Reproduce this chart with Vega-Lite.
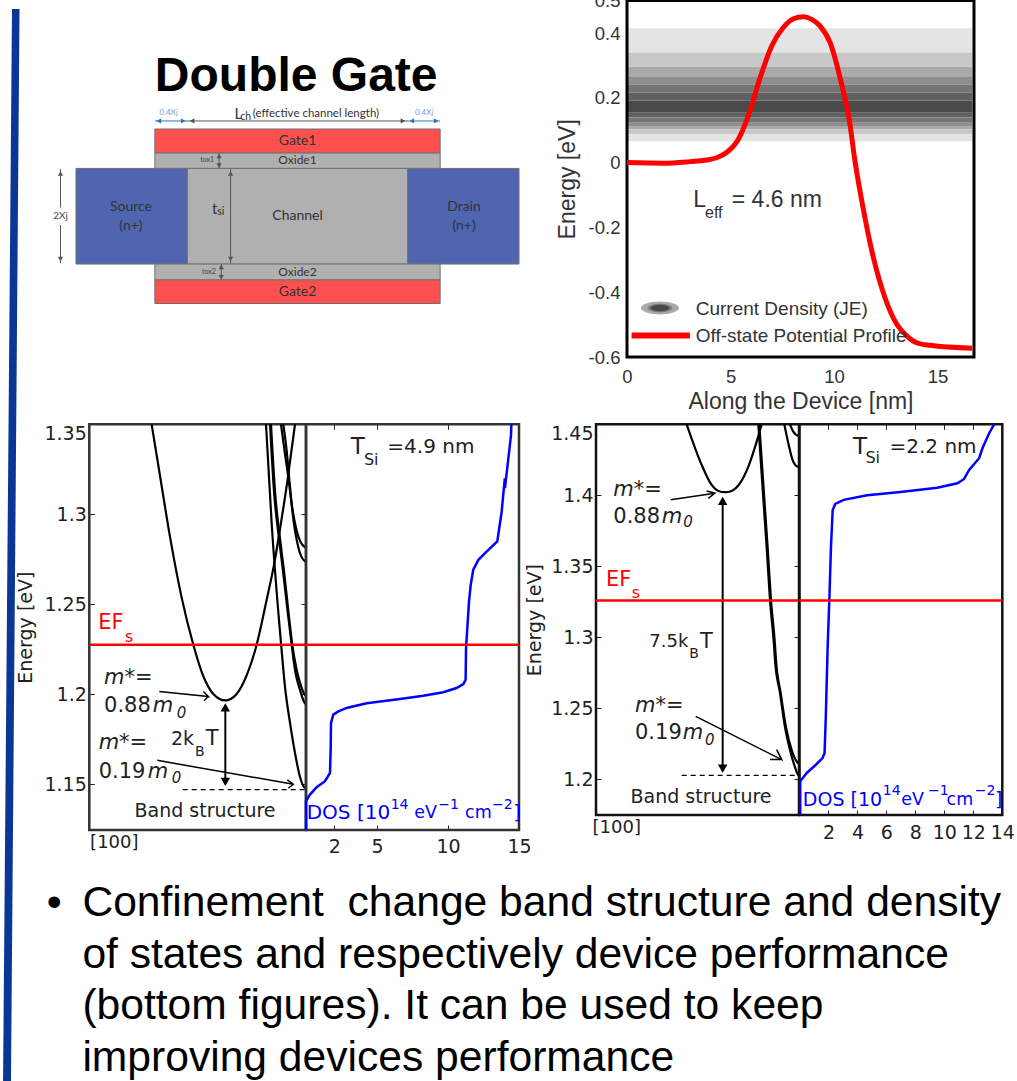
{
"$schema":"https://vega.github.io/schema/vega-lite/v6.json",
"width":1017,"height":1081,"padding":0,"autosize":{"type":"none"},"background":"white",
"config":{"view":{"stroke":null},"axis":{"grid":false,"domain":false,"labelFont":"DejaVu Sans","titleFont":"DejaVu Sans","titleFontWeight":"normal","labelColor":"#222","titleColor":"#222","labelFontSize":19,"titleFontSize":19,"tickColor":"#222","labelOverlap":false}},
"resolve":{"scale":{"x":"independent","y":"independent","color":"independent","shape":"independent"},"axis":{"x":"independent","y":"independent"}},
"layer":[
{"encoding":{"x":{"field":"sx","type":"quantitative","scale":{"domain":[0,100],"range":[0,1017]},"axis":null},"y":{"field":"sy","type":"quantitative","scale":{"domain":[0,100],"range":[0,1081]},"axis":null}},
 "layer":[
 {"data":{"values":[{"sx":1.18,"sx2":1.92,"sy":0.83},{"sx":0.3,"sx2":1.08,"sy":100}]},"mark":{"type":"area","orient":"horizontal","color":"#0a3796"},"encoding":{"x2":{"field":"sx2"}}},
 {"data":{"values":[{"sx":8.1,"sy":83.55,"t":"Confinement\u00a0 change band structure and density"},{"sx":8.1,"sy":88.35,"t":"of states and respectively device performance"},{"sx":8.1,"sy":93.05,"t":"(bottom figures). It can be used to keep"},{"sx":8.1,"sy":97.85,"t":"improving devices performance"},{"sx":4.6,"sy":83.55,"t":"•"}]},"mark":{"type":"text","font":"Liberation Sans","fontSize":42.6,"align":"left","baseline":"middle","color":"black"},"encoding":{"text":{"field":"t"}}}
 ]},
{"encoding":{"x":{"field":"dx","type":"quantitative","scale":{"domain":[0,100],"range":[76,519]},"axis":null},"y":{"field":"dy","type":"quantitative","scale":{"domain":[0,100],"range":[129,303.5]},"axis":null}},
 "layer":[
 {"data":{"values":[
  {"dx":17.8,"dx2":82.2,"dy":0,"dy2":13.8,"region":"gate"},
  {"dx":17.8,"dx2":82.2,"dy":13.8,"dy2":22.6,"region":"oxide"},
  {"dx":25.1,"dx2":74.9,"dy":22.6,"dy2":77.4,"region":"channel"},
  {"dx":0,"dx2":25.1,"dy":22.6,"dy2":77.4,"region":"contact"},
  {"dx":74.9,"dx2":100,"dy":22.6,"dy2":77.4,"region":"contact"},
  {"dx":17.8,"dx2":82.2,"dy":77.4,"dy2":86.5,"region":"oxide"},
  {"dx":17.8,"dx2":82.2,"dy":86.5,"dy2":100,"region":"gate"}]},
  "mark":{"type":"rect","stroke":"#707070","strokeWidth":1},
  "encoding":{"x2":{"field":"dx2"},"y2":{"field":"dy2"},"color":{"field":"region","type":"nominal","scale":{"domain":["gate","oxide","channel","contact","dim","blue"],"range":["#ff5050","#b0b0b0","#b0b0b0","#4f65b0","#555555","#2e75b6"]},"legend":null}}},
 {"data":{"values":[
  {"dx":25.1,"dx2":74.9,"dy":-4.6,"kind":"dim"},
  {"dx":17.8,"dx2":25.1,"dy":-4.6,"kind":"blue"},
  {"dx":74.9,"dx2":82.2,"dy":-4.6,"kind":"blue"}]},
  "mark":{"type":"rule","strokeWidth":1},
  "encoding":{"x2":{"field":"dx2"},"color":{"field":"kind","type":"nominal","scale":{"domain":["gate","oxide","channel","contact","dim","blue"],"range":["#ff5050","#b0b0b0","#b0b0b0","#4f65b0","#555555","#2e75b6"]},"legend":null}}},
 {"data":{"values":[
  {"dx":34.9,"dy":23,"dy2":77},
  {"dx":-3.5,"dy":23,"dy2":45},
  {"dx":-3.5,"dy":55,"dy2":77},
  {"dx":32.3,"dy":14,"dy2":22.5},
  {"dx":32.8,"dy":77.5,"dy2":86.3}]},
  "mark":{"type":"rule","strokeWidth":1,"color":"#555555"},
  "encoding":{"y2":{"field":"dy2"}}},
 {"data":{"values":[
  {"dx":26.2,"dy":-4.6,"dir":"left","kind":"dim"},{"dx":73.8,"dy":-4.6,"dir":"right","kind":"dim"},
  {"dx":18.7,"dy":-4.6,"dir":"left","kind":"blue"},{"dx":24.2,"dy":-4.6,"dir":"right","kind":"blue"},
  {"dx":75.8,"dy":-4.6,"dir":"left","kind":"blue"},{"dx":81.3,"dy":-4.6,"dir":"right","kind":"blue"},
  {"dx":34.9,"dy":25.5,"dir":"up","kind":"dim"},{"dx":34.9,"dy":74.5,"dir":"down","kind":"dim"},
  {"dx":-3.5,"dy":25.5,"dir":"up","kind":"dim"},{"dx":-3.5,"dy":74.5,"dir":"down","kind":"dim"},
  {"dx":32.3,"dy":15.5,"dir":"up","kind":"dim"},{"dx":32.3,"dy":21,"dir":"down","kind":"dim"},
  {"dx":32.8,"dy":79,"dir":"up","kind":"dim"},{"dx":32.8,"dy":85,"dir":"down","kind":"dim"}]},
  "mark":{"type":"point","filled":true,"size":28,"opacity":1,"strokeWidth":0},
  "encoding":{"shape":{"field":"dir","type":"nominal","scale":{"domain":["left","right","up","down"],"range":["triangle-left","triangle-right","triangle-up","triangle-down"]},"legend":null},"color":{"field":"kind","type":"nominal","scale":{"domain":["gate","oxide","channel","contact","dim","blue"],"range":["#ff5050","#b0b0b0","#b0b0b0","#4f65b0","#555555","#2e75b6"]},"legend":null}}},
 {"data":{"values":[{"dx":49.7,"dy":-21.8,"t":"Double Gate"}]},"mark":{"type":"text","font":"Liberation Sans","fontWeight":"bold","fontSize":48,"align":"center","baseline":"alphabetic","color":"black"},"encoding":{"text":{"field":"t"}}},
 {"data":{"values":[{"dx":50,"dy":6.7,"t":"Gate1"},{"dx":50,"dy":93.2,"t":"Gate2"},{"dx":12.4,"dy":44.7,"t":"Source"},{"dx":12.4,"dy":55.4,"t":"(n+)"},{"dx":87.6,"dy":44.7,"t":"Drain"},{"dx":87.6,"dy":55.4,"t":"(n+)"},{"dx":50,"dy":50,"t":"Channel"}]},"mark":{"type":"text","font":"Lato","fontSize":14,"align":"center","baseline":"middle","color":"#333333"},"encoding":{"text":{"field":"t"}}},
 {"data":{"values":[{"dx":50,"dy":18,"t":"Oxide1"},{"dx":50,"dy":82,"t":"Oxide2"}]},"mark":{"type":"text","font":"Lato","fontSize":12,"align":"center","baseline":"middle","color":"#333333"},"encoding":{"text":{"field":"t"}}},
 {"data":{"values":[{"dx":39.9,"dy":-8.6,"t":"(effective channel length)"}]},"mark":{"type":"text","font":"Lato","fontSize":11.5,"align":"left","baseline":"middle","color":"#333333"},"encoding":{"text":{"field":"t"}}},
 {"data":{"values":[{"dx":35.8,"dy":-8.6,"t":"L"},{"dx":30.7,"dy":46,"t":"t"}]},"mark":{"type":"text","font":"Lato","fontSize":15,"align":"left","baseline":"middle","color":"#333333"},"encoding":{"text":{"field":"t"}}},
 {"data":{"values":[{"dx":37.1,"dy":-7,"t":"ch"},{"dx":31.9,"dy":47.7,"t":"si"}]},"mark":{"type":"text","font":"Lato","fontSize":10.5,"align":"left","baseline":"middle","color":"#333333"},"encoding":{"text":{"field":"t"}}},
 {"data":{"values":[{"dx":-3.5,"dy":50,"t":"2Xj"}]},"mark":{"type":"text","font":"Lato","fontSize":10,"align":"center","baseline":"middle","color":"#444444"},"encoding":{"text":{"field":"t"}}},
 {"data":{"values":[{"dx":29.6,"dy":18,"t":"tox1"},{"dx":30,"dy":81.8,"t":"tox2"}]},"mark":{"type":"text","font":"Lato","fontSize":7,"align":"center","baseline":"middle","color":"#444444"},"encoding":{"text":{"field":"t"}}},
 {"data":{"values":[{"dx":20.9,"dy":-9.2,"t":"0.4Xj"},{"dx":78.6,"dy":-9.2,"t":"0.4Xj"}]},"mark":{"type":"text","font":"Lato","fontSize":8,"align":"center","baseline":"middle","color":"#6fa3d8"},"encoding":{"text":{"field":"t"}}}
 ]},
{"encoding":{
  "x":{"field":"pos","type":"quantitative","scale":{"domain":[0,16.76],"range":[627,974]},"axis":{"orient":"bottom","offset":-724,"values":[0,5,10,15],"format":"d","ticks":false,"labelFlush":false,"labelPadding":10,"labelFont":"Liberation Sans","labelFontSize":18.5,"title":"Along the Device [nm]","titleFont":"Liberation Sans","titleFontSize":23,"titlePadding":5,"labelColor":"#333","titleColor":"#333"}},
  "y":{"field":"en","type":"quantitative","scale":{"domain":[-0.6,0.5],"range":[357,0.6]},"axis":{"orient":"left","offset":-627,"values":[-0.6,-0.4,-0.2,0,0.2,0.4,0.5],"labelExpr":"''+round(datum.value*10)/10","ticks":false,"labelPadding":7,"labelFont":"Liberation Sans","labelFontSize":18.5,"title":"Energy [eV]","titleFont":"Liberation Sans","titleFontSize":23,"titlePadding":9,"labelColor":"#333","titleColor":"#333"}}},
 "layer":[
 {"data":{"values":[
  {"pos":0,"pos2":16.68,"en":0.415,"en2":0.340,"level":1},{"pos":0,"pos2":16.68,"en":0.340,"en2":0.296,"level":2},{"pos":0,"pos2":16.68,"en":0.296,"en2":0.264,"level":3},{"pos":0,"pos2":16.68,"en":0.264,"en2":0.240,"level":4},{"pos":0,"pos2":16.68,"en":0.240,"en2":0.216,"level":5},{"pos":0,"pos2":16.68,"en":0.216,"en2":0.192,"level":6},{"pos":0,"pos2":16.68,"en":0.192,"en2":0.154,"level":7},{"pos":0,"pos2":16.68,"en":0.154,"en2":0.139,"level":6},{"pos":0,"pos2":16.68,"en":0.139,"en2":0.123,"level":5},{"pos":0,"pos2":16.68,"en":0.123,"en2":0.113,"level":4},{"pos":0,"pos2":16.68,"en":0.113,"en2":0.103,"level":3},{"pos":0,"pos2":16.68,"en":0.103,"en2":0.087,"level":2},{"pos":0,"pos2":16.68,"en":0.087,"en2":0.066,"level":1}]},
  "mark":{"type":"rect"},
  "encoding":{"x2":{"field":"pos2"},"y2":{"field":"en2"},"color":{"field":"level","type":"ordinal","scale":{"domain":[1,2,3,4,5,6,7],"range":["#e4e4e4","#c8c8c8","#aaaaaa","#8e8e8e","#757575","#606060","#4a4a4a"]},"legend":null}}},
 {"data":{"values":[{"pos":0,"pos2":16.76,"en":-0.6,"en2":0.5}]},"mark":{"type":"rect","filled":false,"stroke":"black","strokeWidth":3},"encoding":{"x2":{"field":"pos2"},"y2":{"field":"en2"}}},
 {"data":{"values":[{"pos":0,"en":0},{"pos":1.755,"en":-0.002},{"pos":3.04,"en":0.003},{"pos":3.85,"en":0.008},{"pos":4.33,"en":0.015},{"pos":4.81,"en":0.031},{"pos":5.38,"en":0.072},{"pos":5.86,"en":0.144},{"pos":6.43,"en":0.262},{"pos":6.99,"en":0.36},{"pos":7.55,"en":0.417},{"pos":8.04,"en":0.444},{"pos":8.52,"en":0.45},{"pos":8.92,"en":0.442},{"pos":9.32,"en":0.422},{"pos":9.81,"en":0.37},{"pos":10.29,"en":0.262},{"pos":10.77,"en":0.118},{"pos":11.01,"en":0.005},{"pos":11.34,"en":-0.118},{"pos":11.9,"en":-0.293},{"pos":12.46,"en":-0.417},{"pos":13.03,"en":-0.499},{"pos":13.51,"en":-0.535},{"pos":13.99,"en":-0.556},{"pos":14.64,"en":-0.564},{"pos":16.68,"en":-0.573}]},"mark":{"type":"line","color":"#ff0000","strokeWidth":5,"interpolate":"monotone"}},
 {"data":{"values":[{"pos":1.59,"en":-0.4486}]},"mark":{"type":"point","filled":true,"opacity":1,"strokeWidth":0,"color":"#aaaaaa","size":1444,"shape":"M-1,0A1,0.34,0,1,1,1,0A1,0.34,0,1,1,-1,0Z"}},
 {"data":{"values":[{"pos":1.59,"en":-0.4486}]},"mark":{"type":"point","filled":true,"opacity":1,"strokeWidth":0,"color":"#808080","size":640,"shape":"M-1,0A1,0.34,0,1,1,1,0A1,0.34,0,1,1,-1,0Z"}},
 {"data":{"values":[{"pos":1.59,"en":-0.4486}]},"mark":{"type":"point","filled":true,"opacity":1,"strokeWidth":0,"color":"#484848","size":360,"shape":"M-1,0A1,0.34,0,1,1,1,0A1,0.34,0,1,1,-1,0Z"}},
 {"data":{"values":[{"pos":0.22,"pos2":3.04,"en":-0.534}]},"mark":{"type":"rule","color":"#ff0000","strokeWidth":6},"encoding":{"x2":{"field":"pos2"}}},
 {"data":{"values":[{"pos":3.32,"en":-0.4506,"t":"Current Density (JE)"},{"pos":3.32,"en":-0.536,"t":"Off-state Potential Profile"}]},"mark":{"type":"text","font":"Liberation Sans","fontSize":19,"align":"left","baseline":"middle","color":"#333333"},"encoding":{"text":{"field":"t"}}},
 {"data":{"values":[{"pos":3.2,"en":-0.115,"t":"L"},{"pos":5.06,"en":-0.115,"t":"= 4.6 nm"}]},"mark":{"type":"text","font":"Liberation Sans","fontSize":23,"align":"left","baseline":"middle","color":"#333333"},"encoding":{"text":{"field":"t"}}},
 {"data":{"values":[{"pos":3.77,"en":-0.157,"t":"eff"}]},"mark":{"type":"text","font":"Liberation Sans","fontSize":16,"align":"left","baseline":"middle","color":"#333333"},"encoding":{"text":{"field":"t"}}}
 ]},

{"data":{"values":[{"k":1,"k2":0,"E":1.1246,"E2":1.35}]},"mark":{"type":"rect","filled":false,"stroke":"#333333","strokeWidth":2.5},
 "encoding":{"x":{"field":"k","type":"quantitative","scale":{"domain":[1,0],"range":[89.3,306]},"axis":null},"x2":{"field":"k2"},
  "y":{"field":"E","type":"quantitative","scale":{"domain":[1.1246,1.35],"range":[830,424.3]},"axis":{"orient":"right","offset":-711,"values":[1.15,1.2,1.25,1.3,1.35],"tickSize":-5,"labels":false,"title":null}},"y2":{"field":"E2"}}},
{"encoding":{"x":{"field":"k","type":"quantitative","scale":{"domain":[1,0],"range":[89.3,306]},"axis":null},
  "y":{"field":"E","type":"quantitative","scale":{"domain":[1.1246,1.35],"range":[830,424.3]},"axis":{"orient":"left","offset":-89.3,"values":[1.15,1.2,1.25,1.3,1.35],"labelExpr":"''+round(datum.value*100)/100","labelFlush":true,"tickSize":-5,"labelPadding":8,"title":"Energy [eV]","titlePadding":8}}},
 "layer":[
 {"data":{"values":[
  {"band":"a","k":0.7123,"E":1.35},{"band":"a","k":0.6738,"E":1.3215},{"band":"a","k":0.6277,"E":1.2876},{"band":"a","k":0.5738,"E":1.2537},{"band":"a","k":0.52,"E":1.2275},{"band":"a","k":0.4738,"E":1.21},{"band":"a","k":0.4277,"E":1.2002},{"band":"a","k":0.3723,"E":1.1966},{"band":"a","k":0.32,"E":1.2002},{"band":"a","k":0.2738,"E":1.2105},{"band":"a","k":0.2277,"E":1.2275},{"band":"a","k":0.1815,"E":1.2525},{"band":"a","k":0.1477,"E":1.2719},{"band":"a","k":0.1169,"E":1.2941},{"band":"a","k":0.0862,"E":1.3182},{"band":"a","k":0.0508,"E":1.35},
  {"band":"c","k":0.1846,"E":1.35},{"band":"c","k":0.1583,"E":1.2946},{"band":"c","k":0.1278,"E":1.2457},{"band":"c","k":0.1154,"E":1.2285},{"band":"c","k":0.0969,"E":1.2041},{"band":"c","k":0.0738,"E":1.1841},{"band":"c","k":0.0508,"E":1.1674},{"band":"c","k":0.0277,"E":1.1541},{"band":"c","k":0.0046,"E":1.148},{"band":"c","k":0,"E":1.148},
  {"band":"d","k":0.1661,"E":1.35},{"band":"d","k":0.1477,"E":1.3129},{"band":"d","k":0.1232,"E":1.2852},{"band":"d","k":0.1061,"E":1.2685},{"band":"d","k":0.0844,"E":1.2457},{"band":"d","k":0.066,"E":1.2274},{"band":"d","k":0.0508,"E":1.2135},{"band":"d","k":0.0277,"E":1.2024},{"band":"d","k":0.0046,"E":1.195},{"band":"d","k":0,"E":1.1948},
  {"band":"d2","k":0.1615,"E":1.35},{"band":"d2","k":0.1431,"E":1.3129},{"band":"d2","k":0.1186,"E":1.2852},{"band":"d2","k":0.1015,"E":1.2685},{"band":"d2","k":0.0808,"E":1.2457},{"band":"d2","k":0.0632,"E":1.2274},{"band":"d2","k":0.0429,"E":1.2135},{"band":"d2","k":0.0245,"E":1.2052},{"band":"d2","k":0.0046,"E":1.1996},{"band":"d2","k":0,"E":1.1994},
  {"band":"e1","k":0.1154,"E":1.35},{"band":"e1","k":0.0969,"E":1.3335},{"band":"e1","k":0.0817,"E":1.3206},{"band":"e1","k":0.066,"E":1.3057},{"band":"e1","k":0.0429,"E":1.2909},{"band":"e1","k":0.0046,"E":1.2817},{"band":"e1","k":0,"E":1.2815},
  {"band":"e2","k":0.1048,"E":1.35},{"band":"e2","k":0.0891,"E":1.3353},{"band":"e2","k":0.0771,"E":1.3196},{"band":"e2","k":0.0614,"E":1.3002},{"band":"e2","k":0.0355,"E":1.2817},{"band":"e2","k":0.0046,"E":1.2739},{"band":"e2","k":0,"E":1.2737}]},
  "mark":{"type":"line","color":"black","strokeWidth":2.2,"interpolate":"monotone"},"encoding":{"detail":{"field":"band"}}},
 {"data":{"values":[{"k":0.569,"k2":0,"E":1.147}]},"mark":{"type":"rule","color":"black","strokeWidth":1.2,"strokeDash":[5,4]},"encoding":{"x2":{"field":"k2"}}},
 {"data":{"values":[{"k":0.3723,"E":1.15,"E2":1.194}]},"mark":{"type":"rule","color":"black","strokeWidth":2},"encoding":{"y2":{"field":"E2"}}},
 {"data":{"values":[{"k":0.3723,"E":1.1927}]},"mark":{"type":"point","shape":"triangle-up","filled":true,"size":90,"opacity":1,"color":"black","strokeWidth":0}},
 {"data":{"values":[{"k":0.3723,"E":1.1513}]},"mark":{"type":"point","shape":"triangle-down","filled":true,"size":90,"opacity":1,"color":"black","strokeWidth":0}},
 {"data":{"values":[
  {"arrow":"1","i":1,"k":0.6769,"E":1.2015},{"arrow":"1","i":2,"k":0.4508,"E":1.1988},{"arrow":"1","i":3,"k":0.4738,"E":1.2015},{"arrow":"1","i":4,"k":0.4508,"E":1.1988},{"arrow":"1","i":5,"k":0.4708,"E":1.1964},
  {"arrow":"2","i":1,"k":0.6862,"E":1.1633},{"arrow":"2","i":2,"k":0.0585,"E":1.15},{"arrow":"2","i":3,"k":0.0862,"E":1.1524},{"arrow":"2","i":4,"k":0.0585,"E":1.15},{"arrow":"2","i":5,"k":0.0815,"E":1.1478}]},
  "mark":{"type":"line","color":"black","strokeWidth":1.5},"encoding":{"detail":{"field":"arrow"},"order":{"field":"i"}}},
 {"data":{"values":[{"k":0.932,"E":1.209,"t":"m*="},{"k":0.7077,"E":1.1933,"t":"m"},{"k":0.9569,"E":1.1729,"t":"m*="},{"k":0.7308,"E":1.1568,"t":"m"}]},"mark":{"type":"text","font":"DejaVu Sans","fontStyle":"italic","fontSize":21,"align":"left","baseline":"middle","color":"#222222"},"encoding":{"text":{"field":"t"}}},
 {"data":{"values":[{"k":0.5969,"E":1.1897,"t":"0"},{"k":0.62,"E":1.1534,"t":"0"}]},"mark":{"type":"text","font":"DejaVu Sans","fontStyle":"italic","fontSize":15,"align":"left","baseline":"middle","color":"#222222"},"encoding":{"text":{"field":"t"}}},
 {"data":{"values":[{"k":0.932,"E":1.1933,"t":"0.88"},{"k":0.9569,"E":1.1568,"t":"0.19"},{"k":0.4631,"E":1.1751,"t":"T"}]},"mark":{"type":"text","font":"DejaVu Sans","fontSize":21,"align":"left","baseline":"middle","color":"#222222"},"encoding":{"text":{"field":"t"}}},
 {"data":{"values":[{"k":0.6231,"E":1.1751,"t":"2k"}]},"mark":{"type":"text","font":"DejaVu Sans","fontSize":19,"align":"left","baseline":"middle","color":"#222222"},"encoding":{"text":{"field":"t"}}},
 {"data":{"values":[{"k":0.5123,"E":1.1681,"t":"B"}]},"mark":{"type":"text","font":"DejaVu Sans","fontSize":14,"align":"left","baseline":"middle","color":"#222222"},"encoding":{"text":{"field":"t"}}},
 {"data":{"values":[{"k":0.4662,"E":1.1354,"t":"Band structure"}]},"mark":{"type":"text","font":"DejaVu Sans","fontSize":19,"align":"center","baseline":"middle","color":"#222222"},"encoding":{"text":{"field":"t"}}},
 {"data":{"values":[{"k":0.8846,"E":1.1174,"t":"[100]"}]},"mark":{"type":"text","font":"DejaVu Sans","fontSize":18,"align":"center","baseline":"middle","color":"#222222"},"encoding":{"text":{"field":"t"}}},
 {"data":{"values":[{"k":0.9585,"E":1.2395,"t":"EF"}]},"mark":{"type":"text","font":"DejaVu Sans","fontSize":21,"align":"left","baseline":"middle","color":"#ff0000"},"encoding":{"text":{"field":"t"}}},
 {"data":{"values":[{"k":0.8354,"E":1.2321,"t":"s"}]},"mark":{"type":"text","font":"DejaVu Sans","fontSize":16,"align":"left","baseline":"middle","color":"#ff0000"},"encoding":{"text":{"field":"t"}}},
 {"data":{"values":[{"k":1,"k2":0,"E":1.2275}]},"mark":{"type":"rule","color":"#ff0000","strokeWidth":2.5},"encoding":{"x2":{"field":"k2"}}}
 ]},
{"data":{"values":[{"dos":0,"dos2":15,"E":1.1246,"E2":1.35}]},"mark":{"type":"rect","filled":false,"stroke":"#333333","strokeWidth":2.5},
 "encoding":{"x":{"field":"dos","type":"quantitative","scale":{"domain":[0,15],"range":[306,519]},"axis":{"orient":"top","offset":-424.3,"values":[2,5,10,15],"tickSize":-5,"labels":false,"title":null}},"x2":{"field":"dos2"},
  "y":{"field":"E","type":"quantitative","scale":{"domain":[1.1246,1.35],"range":[830,424.3]},"axis":null},"y2":{"field":"E2"}}},
{"encoding":{"x":{"field":"dos","type":"quantitative","scale":{"domain":[0,15],"range":[306,519]},"axis":{"orient":"bottom","offset":-251,"values":[2,5,10,15],"format":"d","tickSize":-5,"labelFlush":false,"labelPadding":12,"title":null}},
  "y":{"field":"E","type":"quantitative","scale":{"domain":[1.1246,1.35],"range":[830,424.3]},"axis":null}},
 "layer":[
 {"data":{"values":[{"dos":0,"E":1.1248},{"dos":0,"E":1.1406},{"dos":0.28,"E":1.1443},{"dos":0.75,"E":1.1484},{"dos":1.34,"E":1.1517},{"dos":1.69,"E":1.1563},{"dos":1.74,"E":1.1702},{"dos":1.76,"E":1.184},{"dos":1.92,"E":1.1887},{"dos":2.28,"E":1.1905},{"dos":2.86,"E":1.1924},{"dos":4.27,"E":1.195},{"dos":6.62,"E":1.1974},{"dos":8.26,"E":1.1992},{"dos":9.67,"E":1.2011},{"dos":10.6,"E":1.2035},{"dos":11.08,"E":1.2057},{"dos":11.24,"E":1.2081},{"dos":11.27,"E":1.2257},{"dos":11.36,"E":1.2368},{"dos":11.48,"E":1.2516},{"dos":11.6,"E":1.2608},{"dos":11.78,"E":1.2692},{"dos":12.14,"E":1.2747},{"dos":12.72,"E":1.2793},{"dos":13.47,"E":1.2849},{"dos":13.59,"E":1.2913},{"dos":13.78,"E":1.3015},{"dos":14.01,"E":1.3145},{"dos":14.0,"E":1.32},{"dos":14.25,"E":1.3311},{"dos":14.44,"E":1.3441},{"dos":14.46,"E":1.35}]},"mark":{"type":"line","orient":"vertical","color":"#0000ff","strokeWidth":2.5}},
 {"data":{"values":[{"dos":0,"dos2":15,"E":1.2275}]},"mark":{"type":"rule","color":"#ff0000","strokeWidth":2.5},"encoding":{"x2":{"field":"dos2"}}},
 {"data":{"values":[{"dos":3.15,"E":1.3372,"t":"T"}]},"mark":{"type":"text","font":"DejaVu Sans","fontSize":23,"align":"left","baseline":"middle","color":"#222222"},"encoding":{"text":{"field":"t"}}},
 {"data":{"values":[{"dos":5.73,"E":1.3372,"t":"=4.9 nm"}]},"mark":{"type":"text","font":"DejaVu Sans","fontSize":20,"align":"left","baseline":"middle","color":"#222222"},"encoding":{"text":{"field":"t"}}},
 {"data":{"values":[{"dos":4.08,"E":1.3302,"t":"Si"}]},"mark":{"type":"text","font":"DejaVu Sans","fontSize":16,"align":"left","baseline":"middle","color":"#222222"},"encoding":{"text":{"field":"t"}}},
 {"data":{"values":[{"dos":0.05,"E":1.1341,"t":"DOS [10"},{"dos":14.6,"E":1.1341,"t":"]"}]},"mark":{"type":"text","font":"DejaVu Sans","fontSize":20,"align":"left","baseline":"middle","color":"#0000ff"},"encoding":{"text":{"field":"t"}}},
 {"data":{"values":[{"dos":7.63,"E":1.1341,"t":"eV"},{"dos":11.2,"E":1.1341,"t":"cm"}]},"mark":{"type":"text","font":"DejaVu Sans","fontSize":17.5,"align":"left","baseline":"middle","color":"#0000ff"},"encoding":{"text":{"field":"t"}}},
 {"data":{"values":[{"dos":5.96,"E":1.1387,"t":"14"},{"dos":9.32,"E":1.1387,"t":"−1"},{"dos":13.1,"E":1.1387,"t":"−2"}]},"mark":{"type":"text","font":"DejaVu Sans","fontSize":14,"align":"left","baseline":"middle","color":"#0000ff"},"encoding":{"text":{"field":"t"}}}
 ]},

{"data":{"values":[{"k":1,"k2":0,"E":1.1749,"E2":1.45}]},"mark":{"type":"rect","filled":false,"stroke":"#111111","strokeWidth":2.5},
 "encoding":{"x":{"field":"k","type":"quantitative","scale":{"domain":[1,0],"range":[596,799]},"axis":null},"x2":{"field":"k2"},
  "y":{"field":"E","type":"quantitative","scale":{"domain":[1.1749,1.45],"range":[815,424.3]},"axis":{"orient":"right","offset":-218,"values":[1.2,1.25,1.3,1.35,1.4,1.45],"tickSize":-5,"labels":false,"title":null}},"y2":{"field":"E2"}}},
{"encoding":{"x":{"field":"k","type":"quantitative","scale":{"domain":[1,0],"range":[596,799]},"axis":null},
  "y":{"field":"E","type":"quantitative","scale":{"domain":[1.1749,1.45],"range":[815,424.3]},"axis":{"orient":"left","offset":-596,"values":[1.2,1.25,1.3,1.35,1.4,1.45],"labelExpr":"''+round(datum.value*100)/100","labelFlush":true,"tickSize":-5,"labelPadding":8,"title":"Energy [eV]","titlePadding":6}}},
 "layer":[
 {"data":{"values":[
  {"band":"p","k":0.5534,"E":1.45},{"band":"p","k":0.5205,"E":1.4366},{"band":"p","k":0.4795,"E":1.4214},{"band":"p","k":0.4302,"E":1.4073},{"band":"p","k":0.3974,"E":1.4031},{"band":"p","k":0.3645,"E":1.4022},{"band":"p","k":0.3317,"E":1.4031},{"band":"p","k":0.2906,"E":1.4085},{"band":"p","k":0.2496,"E":1.4202},{"band":"p","k":0.2085,"E":1.4378},{"band":"p","k":0.1839,"E":1.45},
  {"band":"q","k":0.2005,"E":1.45},{"band":"q","k":0.1759,"E":1.3979},{"band":"q","k":0.1591,"E":1.3627},{"band":"q","k":0.1429,"E":1.3263},{"band":"q","k":0.1232,"E":1.2946},{"band":"q","k":0.1182,"E":1.284},{"band":"q","k":0.0936,"E":1.2608},{"band":"q","k":0.069,"E":1.2368},{"band":"q","k":0.0443,"E":1.2206},{"band":"q","k":0.0197,"E":1.2086},{"band":"q","k":0.0034,"E":1.203},{"band":"q","k":0,"E":1.2028},
  {"band":"q2","k":0.1956,"E":1.45},{"band":"q2","k":0.1709,"E":1.3979},{"band":"q2","k":0.1542,"E":1.3627},{"band":"q2","k":0.1379,"E":1.3263},{"band":"q2","k":0.1182,"E":1.2946},{"band":"q2","k":0.1133,"E":1.284},{"band":"q2","k":0.0901,"E":1.2608},{"band":"q2","k":0.064,"E":1.2368},{"band":"q2","k":0.036,"E":1.2206},{"band":"q2","k":0.0163,"E":1.2136},{"band":"q2","k":0,"E":1.2108},
  {"band":"r","k":0.0724,"E":1.45},{"band":"r","k":0.0527,"E":1.4366},{"band":"r","k":0.0281,"E":1.4236},{"band":"r","k":0.0034,"E":1.42},{"band":"r","k":0,"E":1.42},
  {"band":"r2","k":0.0443,"E":1.45},{"band":"r2","k":0.0281,"E":1.4448},{"band":"r2","k":0.0034,"E":1.442},{"band":"r2","k":0,"E":1.442}]},
  "mark":{"type":"line","color":"black","strokeWidth":2.2,"interpolate":"monotone"},"encoding":{"detail":{"field":"band"}}},
 {"data":{"values":[{"k":0.578,"k2":0,"E":1.2028}]},"mark":{"type":"rule","color":"black","strokeWidth":1.2,"strokeDash":[5,4]},"encoding":{"x2":{"field":"k2"}}},
 {"data":{"values":[{"k":0.376,"E":1.206,"E2":1.397}]},"mark":{"type":"rule","color":"black","strokeWidth":2},"encoding":{"y2":{"field":"E2"}}},
 {"data":{"values":[{"k":0.376,"E":1.3961}]},"mark":{"type":"point","shape":"triangle-up","filled":true,"size":90,"opacity":1,"color":"black","strokeWidth":0}},
 {"data":{"values":[{"k":0.376,"E":1.2075}]},"mark":{"type":"point","shape":"triangle-down","filled":true,"size":90,"opacity":1,"color":"black","strokeWidth":0}},
 {"data":{"values":[
  {"arrow":"1","i":1,"k":0.6322,"E":1.3968},{"arrow":"1","i":2,"k":0.4138,"E":1.4015},{"arrow":"1","i":3,"k":0.4548,"E":1.4031},{"arrow":"1","i":4,"k":0.4138,"E":1.4015},{"arrow":"1","i":5,"k":0.4466,"E":1.3979},
  {"arrow":"2","i":1,"k":0.509,"E":1.2443},{"arrow":"2","i":2,"k":0.0854,"E":1.2139},{"arrow":"2","i":3,"k":0.11,"E":1.2209},{"arrow":"2","i":4,"k":0.0854,"E":1.2139},{"arrow":"2","i":5,"k":0.1429,"E":1.2139}]},
  "mark":{"type":"line","color":"black","strokeWidth":1.5},"encoding":{"detail":{"field":"arrow"},"order":{"field":"i"}}},
 {"data":{"values":[{"k":0.9146,"E":1.4038,"t":"m*="},{"k":0.6765,"E":1.385,"t":"m"},{"k":0.8079,"E":1.2514,"t":"m*="},{"k":0.5731,"E":1.2326,"t":"m"}]},"mark":{"type":"text","font":"DejaVu Sans","fontStyle":"italic","fontSize":21,"align":"left","baseline":"middle","color":"#222222"},"encoding":{"text":{"field":"t"}}},
 {"data":{"values":[{"k":0.5698,"E":1.381,"t":"0"},{"k":0.463,"E":1.2279,"t":"0"}]},"mark":{"type":"text","font":"DejaVu Sans","fontStyle":"italic","fontSize":15,"align":"left","baseline":"middle","color":"#222222"},"encoding":{"text":{"field":"t"}}},
 {"data":{"values":[{"k":0.9146,"E":1.385,"t":"0.88"},{"k":0.8079,"E":1.2326,"t":"0.19"},{"k":0.4877,"E":1.2964,"t":"T"}]},"mark":{"type":"text","font":"DejaVu Sans","fontSize":21,"align":"left","baseline":"middle","color":"#222222"},"encoding":{"text":{"field":"t"}}},
 {"data":{"values":[{"k":0.7373,"E":1.2964,"t":"7.5k"}]},"mark":{"type":"text","font":"DejaVu Sans","fontSize":18,"align":"left","baseline":"middle","color":"#222222"},"encoding":{"text":{"field":"t"}}},
 {"data":{"values":[{"k":0.5402,"E":1.2882,"t":"B"}]},"mark":{"type":"text","font":"DejaVu Sans","fontSize":14,"align":"left","baseline":"middle","color":"#222222"},"encoding":{"text":{"field":"t"}}},
 {"data":{"values":[{"k":0.4828,"E":1.1874,"t":"Band structure"}]},"mark":{"type":"text","font":"DejaVu Sans","fontSize":19,"align":"center","baseline":"middle","color":"#222222"},"encoding":{"text":{"field":"t"}}},
 {"data":{"values":[{"k":0.898,"E":1.1655,"t":"[100]"}]},"mark":{"type":"text","font":"DejaVu Sans","fontSize":18,"align":"center","baseline":"middle","color":"#222222"},"encoding":{"text":{"field":"t"}}},
 {"data":{"values":[{"k":0.9507,"E":1.3405,"t":"EF"}]},"mark":{"type":"text","font":"DejaVu Sans","fontSize":21,"align":"left","baseline":"middle","color":"#ff0000"},"encoding":{"text":{"field":"t"}}},
 {"data":{"values":[{"k":0.8243,"E":1.3311,"t":"s"}]},"mark":{"type":"text","font":"DejaVu Sans","fontSize":16,"align":"left","baseline":"middle","color":"#ff0000"},"encoding":{"text":{"field":"t"}}},
 {"data":{"values":[{"k":1,"k2":0,"E":1.326}]},"mark":{"type":"rule","color":"#ff0000","strokeWidth":2.5},"encoding":{"x2":{"field":"k2"}}}
 ]},
{"data":{"values":[{"dos":0,"dos2":14,"E":1.1749,"E2":1.45}]},"mark":{"type":"rect","filled":false,"stroke":"#111111","strokeWidth":2.5},
 "encoding":{"x":{"field":"dos","type":"quantitative","scale":{"domain":[0,14],"range":[799.5,1002.3]},"axis":{"orient":"top","offset":-424.3,"values":[2,4,6,8,10,12,14],"tickSize":-5,"labels":false,"title":null}},"x2":{"field":"dos2"},
  "y":{"field":"E","type":"quantitative","scale":{"domain":[1.1749,1.45],"range":[815,424.3]},"axis":null},"y2":{"field":"E2"}}},
{"encoding":{"x":{"field":"dos","type":"quantitative","scale":{"domain":[0,14],"range":[799.5,1002.3]},"axis":{"orient":"bottom","offset":-266,"values":[2,4,6,8,10,12,14],"format":"d","tickSize":-5,"labelFlush":false,"labelPadding":13,"title":null}},
  "y":{"field":"E","type":"quantitative","scale":{"domain":[1.1749,1.45],"range":[815,424.3]},"axis":null}},
 "layer":[
 {"data":{"values":[{"dos":0.05,"E":1.1749},{"dos":0.05,"E":1.1986},{"dos":0.5,"E":1.2045},{"dos":1.09,"E":1.2099},{"dos":1.59,"E":1.215},{"dos":1.73,"E":1.2186},{"dos":1.82,"E":1.2455},{"dos":1.94,"E":1.2924},{"dos":2.06,"E":1.3264},{"dos":2.17,"E":1.3628},{"dos":2.29,"E":1.3897},{"dos":2.47,"E":1.394},{"dos":3.05,"E":1.3968},{"dos":4.67,"E":1.4001},{"dos":6.97,"E":1.4024},{"dos":9.51,"E":1.4054},{"dos":10.9,"E":1.4085},{"dos":11.36,"E":1.4115},{"dos":11.71,"E":1.4179},{"dos":12.4,"E":1.4261},{"dos":12.63,"E":1.4331},{"dos":13.09,"E":1.4437},{"dos":13.44,"E":1.45}]},"mark":{"type":"line","orient":"vertical","color":"#0000ff","strokeWidth":2.5}},
 {"data":{"values":[{"dos":0,"dos2":14,"E":1.326}]},"mark":{"type":"rule","color":"#ff0000","strokeWidth":2.5},"encoding":{"x2":{"field":"dos2"}}},
 {"data":{"values":[{"dos":3.7,"E":1.4343,"t":"T"}]},"mark":{"type":"text","font":"DejaVu Sans","fontSize":23,"align":"left","baseline":"middle","color":"#222222"},"encoding":{"text":{"field":"t"}}},
 {"data":{"values":[{"dos":6.21,"E":1.4343,"t":"=2.2 nm"}]},"mark":{"type":"text","font":"DejaVu Sans","fontSize":20,"align":"left","baseline":"middle","color":"#222222"},"encoding":{"text":{"field":"t"}}},
 {"data":{"values":[{"dos":4.55,"E":1.4261,"t":"Si"}]},"mark":{"type":"text","font":"DejaVu Sans","fontSize":16,"align":"left","baseline":"middle","color":"#222222"},"encoding":{"text":{"field":"t"}}},
 {"data":{"values":[{"dos":0.23,"E":1.1857,"t":"DOS [10"},{"dos":13.49,"E":1.1857,"t":"]"}]},"mark":{"type":"text","font":"DejaVu Sans","fontSize":19,"align":"left","baseline":"middle","color":"#0000ff"},"encoding":{"text":{"field":"t"}}},
 {"data":{"values":[{"dos":7.02,"E":1.1857,"t":"eV"},{"dos":10.15,"E":1.1857,"t":"cm"}]},"mark":{"type":"text","font":"DejaVu Sans","fontSize":17.5,"align":"left","baseline":"middle","color":"#0000ff"},"encoding":{"text":{"field":"t"}}},
 {"data":{"values":[{"dos":5.75,"E":1.1916,"t":"14"},{"dos":8.87,"E":1.1916,"t":"−1"},{"dos":12.1,"E":1.1916,"t":"−2"}]},"mark":{"type":"text","font":"DejaVu Sans","fontSize":14,"align":"left","baseline":"middle","color":"#0000ff"},"encoding":{"text":{"field":"t"}}}
 ]}
]}
